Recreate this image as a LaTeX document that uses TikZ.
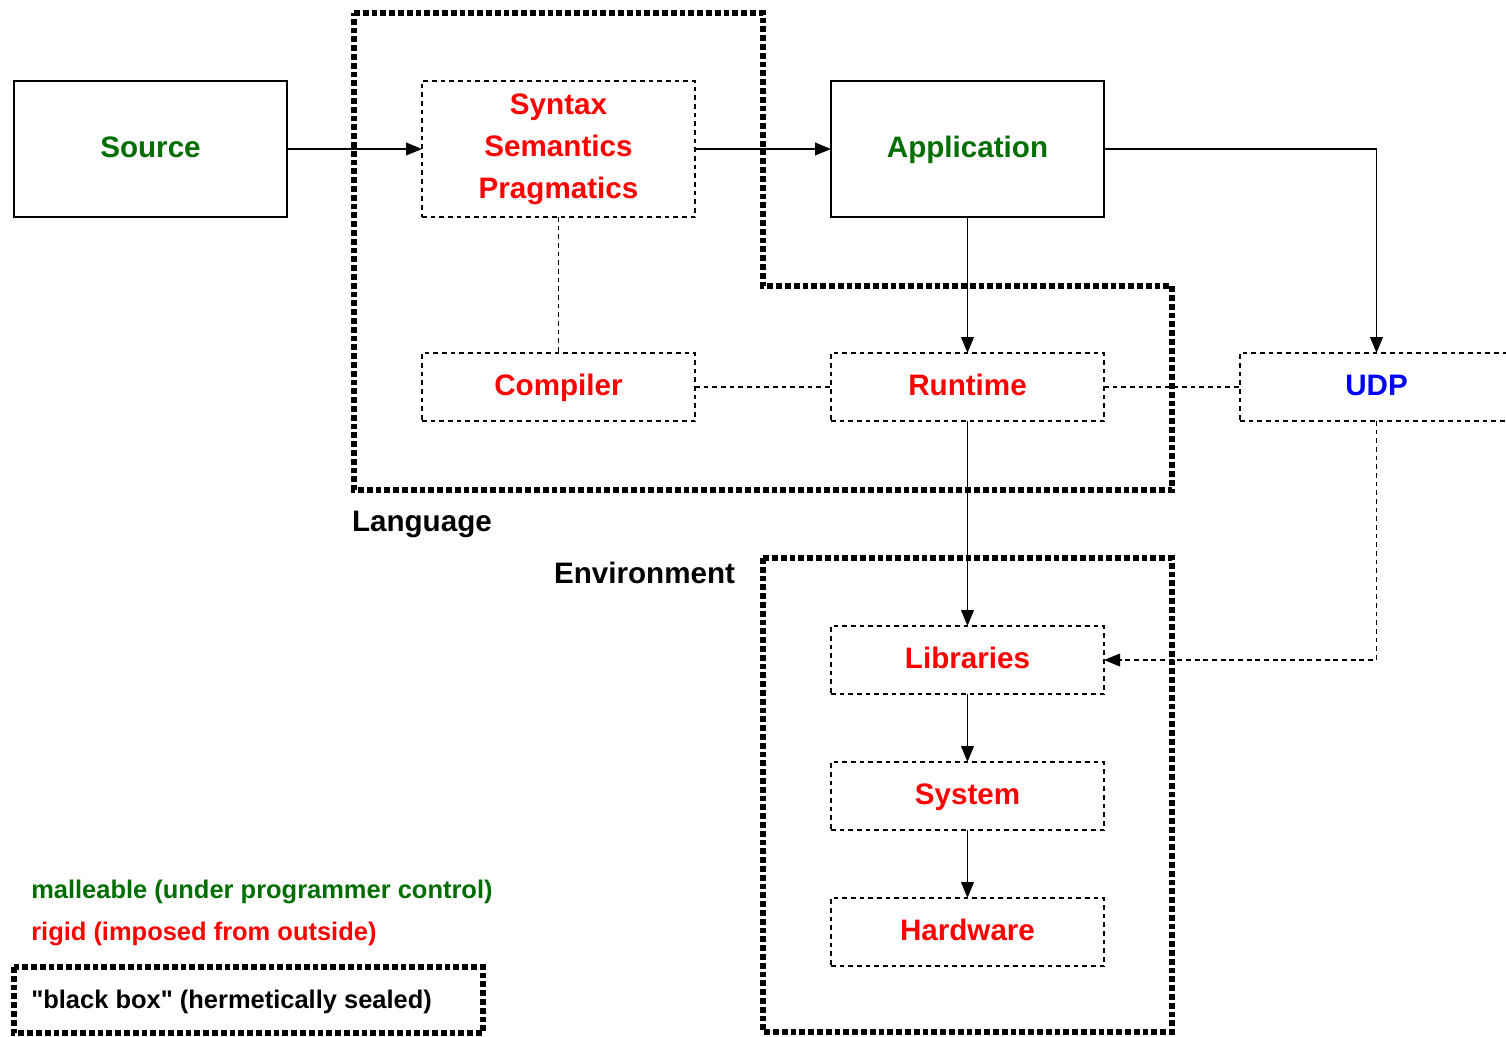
\documentclass[tikz,border=0pt]{standalone}
\usepackage{fontspec}
\setmainfont{Liberation Sans}
\usetikzlibrary{arrows.meta}
\definecolor{mgreen}{RGB}{0,110,0}
\definecolor{mred}{RGB}{255,0,0}
\definecolor{mblue}{RGB}{0,0,255}
\begin{document}
\begin{tikzpicture}[x=0.75pt,y=-0.75pt,
  big/.style={font=\fontsize{22.2}{31.5}\selectfont\bfseries, inner sep=0pt, outer sep=0pt, align=center},
  one/.style={text height=17pt, text depth=4pt},
  solidbox/.style={big, draw, line width=1.4pt, minimum width=204.75pt, minimum height=102pt},
  tallbox/.style={big, draw, line width=1.2pt, dash pattern=on 3.6pt off 2.9pt, minimum width=204.75pt, minimum height=102pt},
  flatbox/.style={big, one, draw, line width=1.2pt, dash pattern=on 3.6pt off 2.9pt, minimum width=204.75pt, minimum height=51pt},
  seal/.style={line width=3.9pt, dash pattern=on 4.3pt off 2.3pt},
  tip/.style={-{Triangle[length=12pt,width=9.5pt]}},
  arr/.style={line width=1.4pt, tip},
  dline/.style={line width=1.2pt, dash pattern=on 3.6pt off 2.9pt},
  legend/.style={font=\fontsize{19.1}{23}\selectfont\bfseries, anchor=west, inner sep=0pt, text height=14.5pt, text depth=3.5pt}]
\clip (0,0) rectangle (1506,1036);
\fill[white] (0,0) rectangle (1506,1036);
% sealed outlines
\draw[seal] (354,13) -- (763,13) -- (763,286) -- (1172,286) -- (1172,490) -- (354,490) -- cycle;
\draw[seal] (763,558) rectangle (1172,1032);
\draw[seal] (14,967) rectangle (483,1033);
% nodes
\node[solidbox, one, text=mgreen] (src) at (150.5,149) {Source};
\node[tallbox, text=mred] (lang) at (558.5,149) {Syntax\\Semantics\\Pragmatics};
\node[solidbox, one, text=mgreen] (app) at (967.5,149) {Application};
\node[flatbox, text=mred] (comp) at (558.5,387) {Compiler};
\node[flatbox, text=mred] (rt) at (967.5,387) {Runtime};
\node[flatbox, text=mblue] (udp) at (1376.5,387) {UDP};
\node[flatbox, text=mred] (lib) at (967.5,660) {Libraries};
\node[flatbox, text=mred] (sys) at (967.5,796) {System};
\node[flatbox, text=mred] (hw) at (967.5,932) {Hardware};
% labels
\node[big, one, anchor=west] (langlbl) at (352,523) {Language};
\node[big, one, anchor=east] (envlbl) at (735,575) {Environment};
\node[legend, text=mgreen] (leg1) at (31,891) {malleable (under programmer control)};
\node[legend, text=mred] (leg2) at (31,933) {rigid (imposed from outside)};
\node[legend] (leg3) at (31,1001) {\addfontfeatures{Ligatures=TeXOff}"black box" (hermetically sealed)};
% connectors
\draw[arr] (src.east) -- (lang.west);
\draw[arr] (lang.east) -- (app.west);
\draw[arr] (app.east) -| (udp.north);
\draw[arr] (app.south) -- (rt.north);
\draw[arr] (rt.south) -- (lib.north);
\draw[arr] (lib.south) -- (sys.north);
\draw[arr] (sys.south) -- (hw.north);
\draw[dline] (lang.south) -- (comp.north);
\draw[dline] (comp.east) -- (rt.west);
\draw[dline] (rt.east) -- (udp.west);
\draw[dline, tip] (udp.south) |- (lib.east);
\end{tikzpicture}
\end{document}
